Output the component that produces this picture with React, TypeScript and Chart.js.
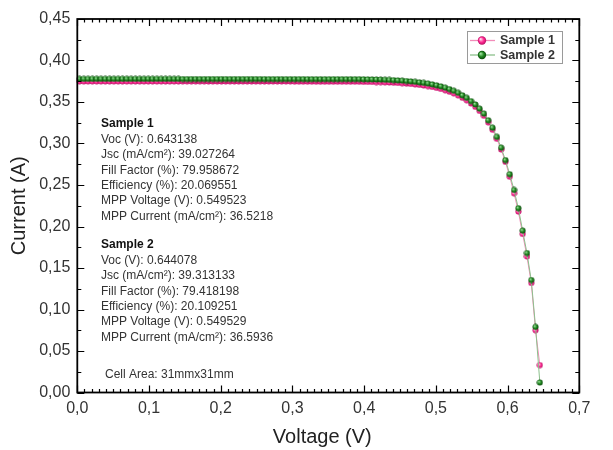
import React, { useEffect, useRef } from "react";
import { Chart, registerables } from "chart.js";

Chart.register(...registerables);

// ---------- data ----------
const voltage = [
  0.003, 0.009, 0.015, 0.021, 0.027, 0.033, 0.039, 0.045, 0.051, 0.057,
  0.063, 0.069, 0.075, 0.081, 0.087, 0.093, 0.099, 0.105, 0.111, 0.117,
  0.123, 0.129, 0.135, 0.141, 0.147, 0.153, 0.159, 0.165, 0.171, 0.177,
  0.183, 0.189, 0.195, 0.201, 0.207, 0.213, 0.219, 0.225, 0.231, 0.237,
  0.243, 0.249, 0.255, 0.261, 0.267, 0.273, 0.279, 0.285, 0.291, 0.297,
  0.303, 0.309, 0.315, 0.321, 0.327, 0.333, 0.339, 0.345, 0.351, 0.357,
  0.363, 0.369, 0.375, 0.381, 0.387, 0.393, 0.399, 0.405, 0.411, 0.417,
  0.423, 0.429, 0.435, 0.441, 0.447, 0.453, 0.459, 0.465, 0.471, 0.477,
  0.483, 0.489, 0.495, 0.501, 0.507, 0.513, 0.519, 0.525, 0.531, 0.537,
  0.543, 0.549, 0.555, 0.561, 0.567, 0.573, 0.579, 0.585, 0.591, 0.597,
  0.603, 0.609, 0.615, 0.621, 0.627, 0.633, 0.639, 0.645,
];

const sample1Current = [
  0.3748, 0.3748, 0.3748, 0.3748, 0.3748, 0.3748, 0.3748, 0.3748, 0.3748, 0.3748,
  0.3748, 0.3748, 0.3748, 0.3748, 0.3748, 0.3748, 0.3748, 0.3748, 0.3748, 0.3748,
  0.3748, 0.3748, 0.3748, 0.3748, 0.3748, 0.3748, 0.3748, 0.3748, 0.3748, 0.3748,
  0.3747, 0.3747, 0.3747, 0.3747, 0.3747, 0.3747, 0.3747, 0.3747, 0.3747, 0.3747,
  0.3747, 0.3747, 0.3747, 0.3747, 0.3747, 0.3747, 0.3747, 0.3747, 0.3747, 0.3747,
  0.3746, 0.3746, 0.3746, 0.3746, 0.3746, 0.3745, 0.3745, 0.3745, 0.3745, 0.3745,
  0.3745, 0.3745, 0.3745, 0.3745, 0.3745, 0.3744, 0.3743, 0.3742, 0.3741, 0.3740,
  0.3739, 0.3737, 0.3735, 0.3732, 0.3729, 0.3726, 0.3722, 0.3717, 0.3712, 0.3706,
  0.3699, 0.3691, 0.3681, 0.3670, 0.3657, 0.3641, 0.3624, 0.3604, 0.3580, 0.3551,
  0.3521, 0.3482, 0.3442, 0.3393, 0.3334, 0.3255, 0.3166, 0.3057, 0.2928, 0.2779,
  0.2600, 0.2400, 0.2180, 0.1910, 0.1640, 0.1320, 0.0750, 0.0330,
];

const sample2Current = [
  0.3778, 0.3778, 0.3778, 0.3778, 0.3778, 0.3778, 0.3778, 0.3778, 0.3778, 0.3778,
  0.3778, 0.3778, 0.3778, 0.3778, 0.3778, 0.3778, 0.3778, 0.3778, 0.3778, 0.3778,
  0.3778, 0.3778, 0.3778, 0.3778, 0.3777, 0.3777, 0.3777, 0.3777, 0.3777, 0.3777,
  0.3777, 0.3777, 0.3777, 0.3777, 0.3777, 0.3777, 0.3777, 0.3777, 0.3777, 0.3777,
  0.3777, 0.3777, 0.3777, 0.3776, 0.3776, 0.3776, 0.3776, 0.3776, 0.3776, 0.3776,
  0.3776, 0.3776, 0.3776, 0.3775, 0.3775, 0.3775, 0.3775, 0.3775, 0.3775, 0.3775,
  0.3775, 0.3775, 0.3775, 0.3775, 0.3775, 0.3775, 0.3774, 0.3773, 0.3772, 0.3771,
  0.3770, 0.3768, 0.3766, 0.3763, 0.3760, 0.3757, 0.3753, 0.3748, 0.3743, 0.3737,
  0.3730, 0.3722, 0.3712, 0.3701, 0.3688, 0.3672, 0.3655, 0.3635, 0.3610, 0.3580,
  0.3550, 0.3510, 0.3470, 0.3420, 0.3360, 0.3280, 0.3190, 0.3080, 0.2950, 0.2800,
  0.2630, 0.2440, 0.2220, 0.1950, 0.1680, 0.1355, 0.0790, 0.0120,
];

const seriesNames = ["Sample 1", "Sample 2"];
const xTickValues = [0, 0.1, 0.2, 0.3, 0.4, 0.5, 0.6, 0.7];
const yTickValues = [0, 0.05, 0.1, 0.15, 0.2, 0.25, 0.3, 0.35, 0.4, 0.45];
const xMinorStep = 0.01;
const yMinorStep = 0.025;
const xTitle = "Voltage (V)";
const yTitle = "Current (A)";

const sample1Info = [
  "Voc (V): 0.643138",
  "Jsc (mA/cm²): 39.027264",
  "Fill Factor (%): 79.958672",
  "Efficiency (%): 20.069551",
  "MPP Voltage (V): 0.549523",
  "MPP Current (mA/cm²): 36.5218",
];
const sample2Info = [
  "Voc (V): 0.644078",
  "Jsc (mA/cm²): 39.313133",
  "Fill Factor (%): 79.418198",
  "Efficiency (%): 20.109251",
  "MPP Voltage (V): 0.549529",
  "MPP Current (mA/cm²): 36.5936",
];
const cellAreaText = "Cell Area: 31mmx31mm";

// ---------- styles ----------
const FONT = '"Liberation Sans", Arial, sans-serif';
const PINK = { base: "#ff2a93", light: "#ffd6ea", dark: "#b80e62", line: "#f28cb9" };
const GREEN = { base: "#1e861e", light: "#9be09b", dark: "#0a480a", line: "#8cc08c" };

function makeBall(r: number, c: { base: string; light: string; dark: string }) {
  const cv = document.createElement("canvas");
  const s = Math.ceil(r * 2) + 1;
  cv.width = s;
  cv.height = s;
  const ctx = cv.getContext("2d")!;
  const cx = s / 2;
  const cy = s / 2;
  const g = ctx.createRadialGradient(cx - r * 0.35, cy - r * 0.35, r * 0.1, cx, cy, r);
  g.addColorStop(0, c.light);
  g.addColorStop(0.55, c.base);
  g.addColorStop(1, c.dark);
  ctx.fillStyle = g;
  ctx.beginPath();
  ctx.arc(cx, cy, r, 0, Math.PI * 2);
  ctx.fill();
  return cv;
}

function drawBall(ctx: CanvasRenderingContext2D, x: number, y: number, r: number, c: { base: string; light: string; dark: string }) {
  const g = ctx.createRadialGradient(x - r * 0.35, y - r * 0.35, r * 0.1, x, y, r);
  g.addColorStop(0, c.light);
  g.addColorStop(0.55, c.base);
  g.addColorStop(1, c.dark);
  ctx.fillStyle = g;
  ctx.beginPath();
  ctx.arc(x, y, r, 0, Math.PI * 2);
  ctx.fill();
}

const fmt = (v: number, d: number) => v.toFixed(d).replace(".", ",");

const framePlugin = {
  id: "originFrame",
  afterDraw(chart: any) {
    const { ctx, chartArea } = chart;
    const { left, right, top, bottom } = chartArea;
    const xs = chart.scales.x;
    const ys = chart.scales.y;
    ctx.save();

    // minor & major ticks (inward, all four sides)
    ctx.strokeStyle = "#000";
    ctx.lineWidth = 1.2;
    ctx.beginPath();
    const nx = Math.round((xs.max - xs.min) / xMinorStep);
    for (let i = 0; i <= nx; i++) {
      const v = xs.min + i * xMinorStep;
      const px = Math.round(xs.getPixelForValue(v)) + 0.5;
      const major = i % 10 === 0;
      const len = major ? 7 : 3.5;
      ctx.moveTo(px, bottom);
      ctx.lineTo(px, bottom - len);
      ctx.moveTo(px, top);
      ctx.lineTo(px, top + len);
    }
    const ny = Math.round((ys.max - ys.min) / yMinorStep);
    for (let i = 0; i <= ny; i++) {
      const v = ys.min + i * yMinorStep;
      const py = Math.round(ys.getPixelForValue(v)) + 0.5;
      const major = i % 2 === 0;
      const len = major ? 7 : 4;
      ctx.moveTo(left, py);
      ctx.lineTo(left + len, py);
      ctx.moveTo(right, py);
      ctx.lineTo(right - len, py);
    }
    ctx.stroke();

    // frame
    ctx.lineWidth = 1.8;
    ctx.strokeRect(left, top, right - left, bottom - top);

    // tick labels
    ctx.fillStyle = "#333";
    ctx.font = `16px ${FONT}`;
    ctx.textAlign = "right";
    ctx.textBaseline = "middle";
    yTickValues.forEach((v) => {
      ctx.fillText(fmt(v, 2), left - 7, ys.getPixelForValue(v));
    });
    ctx.textAlign = "center";
    xTickValues.forEach((v) => {
      ctx.fillText(fmt(v, 1), xs.getPixelForValue(v), bottom + 16);
    });

    // axis titles
    ctx.fillStyle = "#222";
    ctx.font = `20px ${FONT}`;
    ctx.fillText(xTitle, (left + right) / 2 - 6, 437);
    ctx.save();
    ctx.translate(19, (top + bottom) / 2);
    ctx.rotate(-Math.PI / 2);
    ctx.fillText(yTitle, 0, 0);
    ctx.restore();

    // annotation block
    ctx.textAlign = "left";
    ctx.textBaseline = "middle";
    const ax = 101;
    const lh = 15.4;
    ctx.fillStyle = "#111";
    ctx.font = `bold 12px ${FONT}`;
    ctx.fillText(seriesNames[0], ax, 124);
    ctx.fillText(seriesNames[1], ax, 245);
    ctx.fillStyle = "#333";
    ctx.font = `12px ${FONT}`;
    sample1Info.forEach((t, i) => ctx.fillText(t, ax, 139.5 + i * lh));
    sample2Info.forEach((t, i) => ctx.fillText(t, ax, 260.5 + i * lh));
    ctx.fillText(cellAreaText, ax + 4, 375);

    // legend
    const lx = 467;
    const ly = 31;
    const lw = 95;
    const lhh = 32;
    ctx.fillStyle = "#fff";
    ctx.fillRect(lx, ly, lw, lhh);
    ctx.strokeStyle = "#9a9a9a";
    ctx.lineWidth = 1;
    ctx.strokeRect(lx + 0.5, ly + 0.5, lw, lhh);
    const entries = [
      { name: seriesNames[0], c: PINK, y: ly + 9.5 },
      { name: seriesNames[1], c: GREEN, y: ly + 24 },
    ];
    entries.forEach((e) => {
      ctx.strokeStyle = e.c.line;
      ctx.lineWidth = 1.3;
      ctx.beginPath();
      ctx.moveTo(lx + 3, e.y);
      ctx.lineTo(lx + 28, e.y);
      ctx.stroke();
      drawBall(ctx, lx + 15, e.y, 4.2, e.c);
      ctx.fillStyle = "#333";
      ctx.font = `bold 12.5px ${FONT}`;
      ctx.textAlign = "left";
      ctx.textBaseline = "middle";
      ctx.fillText(e.name, lx + 33, e.y + 0.5);
    });

    ctx.restore();
  },
};

export default function App() {
  const canvasRef = useRef<HTMLCanvasElement | null>(null);

  useEffect(() => {
    if (!canvasRef.current) return;
    const ball1 = makeBall(3, PINK);
    const ball2 = makeBall(3, GREEN);
    const chart = new Chart(canvasRef.current, {
      type: "line",
      data: {
        datasets: [
          {
            label: seriesNames[0],
            data: voltage.map((v, i) => ({ x: v, y: sample1Current[i] })),
            borderColor: PINK.line,
            backgroundColor: PINK.base,
            borderWidth: 1,
            pointStyle: ball1 as any,
            pointRadius: 3,
            tension: 0,
            clip: false as any,
            order: 1,
          },
          {
            label: seriesNames[1],
            data: voltage.map((v, i) => ({ x: v, y: sample2Current[i] })),
            borderColor: GREEN.line,
            backgroundColor: GREEN.base,
            borderWidth: 1,
            pointStyle: ball2 as any,
            pointRadius: 3,
            tension: 0,
            clip: false as any,
            order: 0,
          },
        ],
      },
      options: {
        animation: false,
        responsive: true,
        maintainAspectRatio: false,
        layout: { padding: { top: 19, right: 33.7, left: 0, bottom: 0 } },
        plugins: {
          legend: { display: false },
          tooltip: { enabled: false },
        },
        events: [],
        scales: {
          x: {
            type: "linear",
            min: 0,
            max: 0.7,
            ticks: { display: false, stepSize: 0.1 },
            grid: { display: false },
            border: { display: false },
            afterFit: (s: any) => {
              s.height = 57.5;
            },
          },
          y: {
            type: "linear",
            min: 0,
            max: 0.45,
            ticks: { display: false, stepSize: 0.05 },
            grid: { display: false },
            border: { display: false },
            afterFit: (s: any) => {
              s.width = 77.3;
            },
          },
        },
      },
      plugins: [framePlugin],
    });
    return () => chart.destroy();
  }, []);

  return (
    <div style={{ position: "fixed", left: 0, top: 0, width: 613, height: 450, background: "#fff" }}>
      <canvas ref={canvasRef} />
    </div>
  );
}
